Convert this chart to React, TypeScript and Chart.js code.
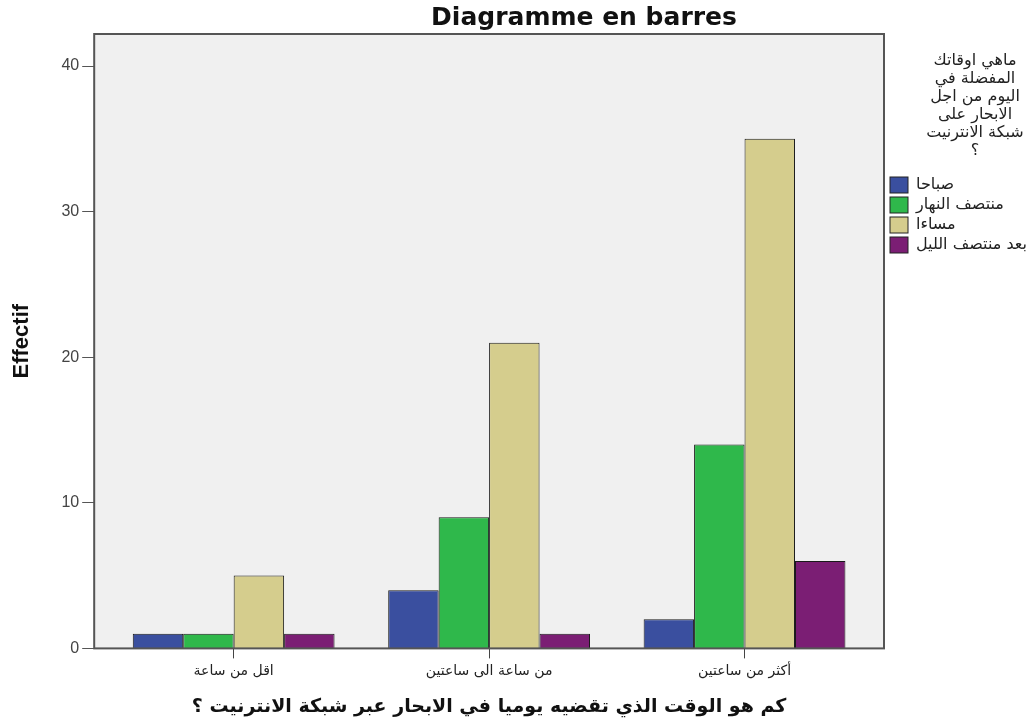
import React, { useEffect, useRef } from "react";
import { Chart, registerables, CategoryScale } from "chart.js";
Chart.register(...registerables);

const categories = ["اقل من ساعة", "من ساعة الى ساعتين", "أكثر من ساعتين"];
const seriesLabels = ["صباحا", "منتصف النهار", "مساءا", "بعد منتصف الليل"];
const morning = [1, 4, 2];
const noon = [1, 9, 14];
const evening = [5, 21, 35];
const afterMidnight = [1, 1, 6];
const yTickValues = [0, 10, 20, 30, 40];
const seriesColors = ["#3a4f9f", "#2fb84b", "#d5cd8d", "#7b1e74"];
const legendTitleLines = ["ماهي اوقاتك", "المفضلة في", "اليوم من اجل", "الابحار على", "شبكة الانترنيت", "؟"];
const chartTitle = "Diagramme en barres";
const yTitle = "Effectif";
const xTitle = "كم هو الوقت الذي تقضيه يوميا في الابحار عبر شبكة الانترنيت ؟";

const arabicFont = "'DejaVu Sans', sans-serif";
const latinFont = "'Liberation Sans', Arial, sans-serif";

class PaddedCategoryScale extends (CategoryScale as any) {
  static id = "paddedCategory";
  static defaults = {};
  buildTicks() {
    const ticks = super.buildTicks();
    const pad = 0.046;
    (this as any)._startValue -= pad;
    (this as any)._valueRange += 2 * pad;
    return ticks;
  }
}
Chart.register(PaddedCategoryScale as any);

const framePlugin = {
  id: "frameAndLegend",
  beforeDatasetsDraw(chart: any) {
    const { ctx, chartArea } = chart;
    ctx.save();
    ctx.fillStyle = "#f0f0f0";
    ctx.fillRect(chartArea.left, chartArea.top, chartArea.right - chartArea.left, chartArea.bottom - chartArea.top);
    ctx.restore();
  },
  afterDraw(chart: any) {
    const { ctx, chartArea } = chart;
    ctx.save();
    ctx.strokeStyle = "#555555";
    ctx.lineWidth = 2;
    ctx.strokeRect(chartArea.left, chartArea.top, chartArea.right - chartArea.left, chartArea.bottom - chartArea.top);
    // title
    ctx.fillStyle = "#111";
    ctx.font = `bold 25px ${arabicFont}`;
    ctx.textAlign = "center";
    ctx.textBaseline = "alphabetic";
    ctx.fillText(chartTitle, 584, 25);
    // legend
    const cx = chartArea.right + 91;
    ctx.fillStyle = "#222";
    ctx.font = `16px ${arabicFont}`;
    ctx.textAlign = "center";
    ctx.textBaseline = "middle";
    legendTitleLines.forEach((line, i) => {
      ctx.fillText(line, cx, 61 + i * 18);
    });
    ctx.font = `16px ${arabicFont}`;
    ctx.textAlign = "left";
    chart.data.datasets.forEach((ds: any, i: number) => {
      const y = 185 + i * 20;
      ctx.fillStyle = ds.backgroundColor;
      ctx.fillRect(chartArea.right + 6, y - 8, 18, 16);
      ctx.strokeStyle = "#222";
      ctx.lineWidth = 1;
      ctx.strokeRect(chartArea.right + 6, y - 8, 18, 16);
      ctx.fillStyle = "#222";
      ctx.fillText(ds.label, chartArea.right + 32, y);
    });
    ctx.restore();
  },
};

export default function App() {
  const ref = useRef<HTMLCanvasElement>(null);
  useEffect(() => {
    if (!ref.current) return;
    const series = [morning, noon, evening, afterMidnight];
    const chart = new Chart(ref.current, {
      type: "bar",
      data: {
        labels: categories,
        datasets: series.map((d, i) => ({
          label: seriesLabels[i],
          data: d,
          backgroundColor: seriesColors[i],
          borderColor: "#1a1a1a",
          borderWidth: 1,
          categoryPercentage: 0.79,
          barPercentage: 1,
        })),
      },
      options: {
        animation: false,
        responsive: false,
        maintainAspectRatio: false,
        layout: { padding: { top: 34, right: 150, bottom: 6, left: 9 } },
        plugins: {
          legend: { display: false },
          tooltip: { enabled: false },
          title: { display: false },
        },
        scales: {
          x: {
            type: "paddedCategory" as any,
            offset: true,
            grid: { display: true, drawOnChartArea: false, drawTicks: true, tickLength: 10, offset: false, color: "#444", tickColor: "#444" },
            border: { display: false },
            ticks: {
              color: "#222",
              font: { family: arabicFont, size: 14 },
              padding: 5,
              maxRotation: 0,
              callback: (v: any) => categories[Math.round(Number(v))],
            },
            title: {
              display: true,
              text: xTitle,
              color: "#111",
              font: { family: arabicFont, size: 19, weight: "bold" },
              padding: { top: 10, bottom: 0 },
            },
          },
          y: {
            min: 0,
            max: 42.2,
            afterBuildTicks: (axis: any) => {
              axis.ticks = yTickValues.map((v) => ({ value: v }));
            },
            grid: { display: true, drawOnChartArea: false, drawTicks: true, tickLength: 12, color: "#555", tickColor: "#555" },
            border: { display: false },
            ticks: { color: "#444", font: { family: latinFont, size: 16 }, padding: 3 },
            title: {
              display: true,
              text: yTitle,
              color: "#111",
              font: { family: latinFont, size: 22, weight: "bold" },
              padding: { top: 0, bottom: 23 },
            },
          },
        },
      },
      plugins: [framePlugin],
    });
    return () => chart.destroy();
  }, []);
  return (
    <div style={{ position: "fixed", left: 0, top: 0, width: 1034, height: 724, background: "#fff" }}>
      <canvas ref={ref} width={1034} height={724} style={{ width: 1034, height: 724 }} />
    </div>
  );
}
